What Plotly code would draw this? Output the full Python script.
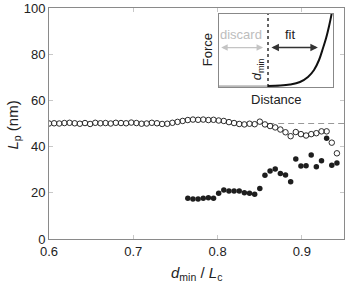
import plotly.graph_objects as go

# ---- data ----
open_x = [0.6000, 0.6061, 0.6122, 0.6183, 0.6244, 0.6305, 0.6366, 0.6427, 0.6488, 0.6549,
          0.6610, 0.6671, 0.6732, 0.6793, 0.6854, 0.6915, 0.6976, 0.7037, 0.7098, 0.7159,
          0.7220, 0.7281, 0.7342, 0.7403, 0.7464, 0.7525, 0.7586, 0.7647, 0.7708, 0.7769,
          0.7830, 0.7891, 0.7952, 0.8013, 0.8074, 0.8135, 0.8196, 0.8257, 0.8318, 0.8379,
          0.8440, 0.8501, 0.8562, 0.8623, 0.8684, 0.8745, 0.8806, 0.8867, 0.8928, 0.8989,
          0.9050, 0.9111, 0.9172, 0.9233, 0.9294, 0.9355, 0.9416]
open_y = [50.0, 50.1, 50.0, 50.2, 50.3, 50.1, 49.9, 50.2, 49.8, 50.3,
          50.1, 50.2, 50.0, 50.3, 50.2, 50.1, 50.4, 50.2, 49.9, 50.0,
          50.3, 50.1, 49.8, 49.9, 50.3, 50.7, 51.1, 51.5, 51.7, 51.6,
          51.7, 51.5, 51.6, 51.3, 51.1, 50.6, 50.2, 49.8, 49.6, 49.9,
          49.7, 50.8, 49.6, 48.9, 48.3, 47.4, 46.2, 44.5, 46.3, 45.4,
          44.8, 45.4, 45.8, 46.6, 46.6, 41.7, 37.1]

filled_x = [0.7647, 0.7708, 0.7769, 0.7830, 0.7891, 0.7952, 0.8013, 0.8074, 0.8135, 0.8196,
            0.8257, 0.8318, 0.8379, 0.8440, 0.8501, 0.8562, 0.8623, 0.8684, 0.8745, 0.8806,
            0.8867, 0.8928, 0.8989, 0.9050, 0.9111, 0.9172, 0.9233, 0.9294, 0.9355, 0.9416]
filled_y = [17.6, 17.3, 17.3, 17.6, 17.9, 17.6, 19.8, 21.2, 20.8, 20.8,
            20.8, 20.0, 19.8, 19.4, 21.9, 27.6, 29.4, 30.3, 28.4, 27.7,
            24.8, 34.6, 31.6, 31.7, 36.4, 31.3, 33.9, 43.6, 31.9, 32.9]

ref_x = [0.86, 0.95]
ref_y = [50, 50]

# inset (schematic force curve)
discard_x = [0.0, 0.43]
discard_y = [0.012, 0.012]
fit_x = [0.43, 0.535, 0.623, 0.71, 0.78, 0.833, 0.877, 0.912, 0.939, 0.965, 0.982, 0.99]
fit_y = [0.014, 0.02, 0.034, 0.068, 0.137, 0.233, 0.37, 0.534, 0.671, 0.836, 0.96, 1.03]
dmin_pos = 0.43

x_ticks = [0.6, 0.7, 0.8, 0.9]
y_ticks = [0, 20, 40, 60, 80, 100]

FONT = "Liberation Sans, Arial, sans-serif"
AX = "#8a8a8a"

fig = go.Figure()

fig.add_trace(go.Scatter(x=ref_x, y=ref_y, mode="lines",
                         line=dict(color="#999999", width=1.2, dash="6px,4px"),
                         showlegend=False, hoverinfo="skip"))
fig.add_trace(go.Scatter(x=open_x, y=open_y, mode="markers",
                         marker=dict(symbol="circle-open", size=5.5,
                                     color="#2a2a2a", line=dict(width=1, color="#2a2a2a")),
                         showlegend=False))
fig.add_trace(go.Scatter(x=filled_x, y=filled_y, mode="markers",
                         marker=dict(symbol="circle", size=5.5, color="#1e1e1e"),
                         showlegend=False))

# inset traces
fig.add_trace(go.Scatter(x=discard_x, y=discard_y, xaxis="x2", yaxis="y2", mode="lines",
                         line=dict(color="#b8b8b8", width=2), showlegend=False))
fig.add_trace(go.Scatter(x=fit_x, y=fit_y, xaxis="x2", yaxis="y2", mode="lines",
                         line=dict(color="#111111", width=2, shape="spline"),
                         showlegend=False, cliponaxis=False))
fig.add_trace(go.Scatter(x=[dmin_pos, dmin_pos], y=[0, 1], xaxis="x2", yaxis="y2",
                         mode="lines", line=dict(color="#111111", width=1.3, dash="dot"),
                         showlegend=False))

fig.update_layout(
    width=354, height=285,
    margin=dict(l=49, r=10, t=8, b=46, autoexpand=False),
    paper_bgcolor="white", plot_bgcolor="white",
    font=dict(family=FONT, size=13, color="#222"),
    xaxis=dict(range=[0.6, 0.95], tickvals=x_ticks, ticktext=["0.6", "0.7", "0.8", "0.9"],
               ticks="inside", ticklen=4, tickcolor="#c8c8c8", showgrid=False, zeroline=False,
               showline=True, linecolor=AX, linewidth=1, mirror="ticks", automargin=False),
    yaxis=dict(range=[0, 100], tickvals=y_ticks,
               ticks="inside", ticklen=4, tickcolor="#c8c8c8", showgrid=False, zeroline=False,
               showline=True, linecolor=AX, linewidth=1, mirror="ticks", automargin=False),
    xaxis2=dict(domain=[0.576, 0.963], anchor="y2", range=[0, 1], showticklabels=False,
                ticks="", showgrid=False, zeroline=False, showline=True, linecolor="#888",
                linewidth=1, mirror=True, automargin=False),
    yaxis2=dict(domain=[0.658, 0.974], anchor="x2", range=[0, 1], showticklabels=False,
                ticks="", showgrid=False, zeroline=False, showline=True, linecolor="#888",
                linewidth=1, mirror=True, automargin=False),
)

# axis titles
fig.add_annotation(x=0.5, y=-0.1, xref="paper", yref="paper", xanchor="center", yanchor="top",
                   text="<i>d</i><sub>min</sub> / <i>L</i><sub>c</sub>", showarrow=False,
                   font=dict(size=15, color="#222", family=FONT))
fig.add_annotation(x=-0.12, y=0.494, xref="paper", yref="paper", xanchor="center",
                   yanchor="middle", text="<i>L</i><sub>p</sub> (nm)", textangle=-90,
                   showarrow=False, font=dict(size=15, color="#222", family=FONT))

# inset annotations
fig.add_annotation(x=0.19, y=0.72, xref="x2", yref="y2", text="discard", showarrow=False,
                   xanchor="center", yanchor="middle",
                   font=dict(size=13, color="#bdbdbd", family=FONT))
fig.add_annotation(x=0.63, y=0.72, xref="x2", yref="y2", text="fit", showarrow=False,
                   xanchor="center", yanchor="middle",
                   font=dict(size=13, color="#222", family=FONT))
fig.add_annotation(x=0.02, y=0.54, ax=0.40, ay=0.54, xref="x2", yref="y2", axref="x2", ayref="y2",
                   text="", showarrow=True, arrowhead=2, arrowside="end+start", arrowsize=1,
                   arrowwidth=1.3, arrowcolor="#c4c4c4")
fig.add_annotation(x=0.46, y=0.54, ax=0.88, ay=0.54, xref="x2", yref="y2", axref="x2", ayref="y2",
                   text="", showarrow=True, arrowhead=2, arrowside="end+start", arrowsize=1,
                   arrowwidth=1.5, arrowcolor="#333")
fig.add_annotation(x=0.34, y=0.24, xref="x2", yref="y2", text="<i>d</i><sub>min</sub>",
                   xanchor="center", yanchor="middle",
                   textangle=-90, showarrow=False, font=dict(size=13, color="#222", family=FONT))
fig.add_annotation(x=0.536, y=0.818, xref="paper", yref="paper", text="Force", textangle=-90,
                   xanchor="center", yanchor="middle",
                   showarrow=False, font=dict(size=13, color="#222", family=FONT))
fig.add_annotation(x=0.77, y=0.602, xref="paper", yref="paper", text="Distance",
                   xanchor="center", yanchor="middle",
                   showarrow=False, font=dict(size=13, color="#222", family=FONT))

fig.write_html("out.html", config={"displayModeBar": False},
               post_script="document.body.style.margin='0px';")
